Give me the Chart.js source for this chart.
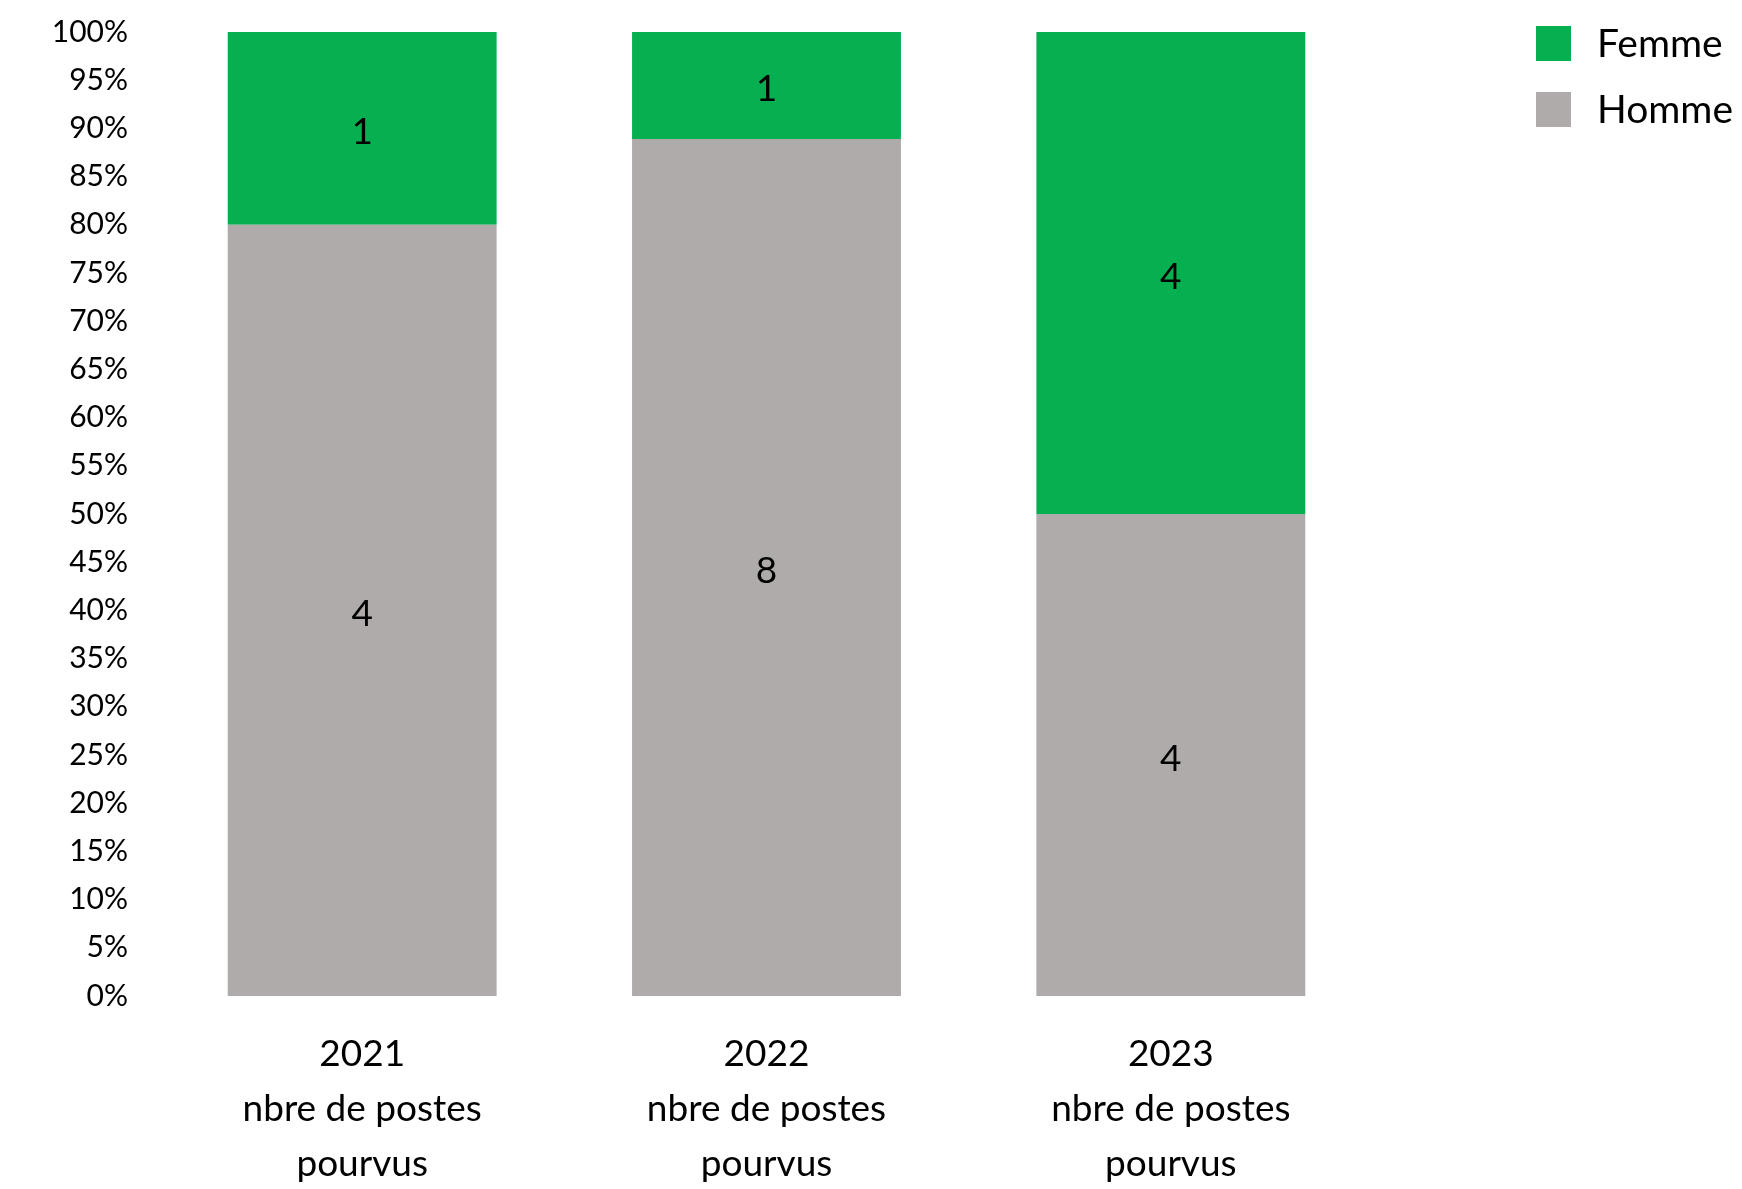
<!DOCTYPE html>
<html lang="fr">
<head>
  <meta charset="UTF-8">
  <title>Postes pourvus par sexe</title>
  <script src="https://cdn.jsdelivr.net/npm/chart.js"></script>
  <style>
    html, body { margin: 0; padding: 0; background: #fff; }
    #wrap { width: 1742px; height: 1189px; }
  </style>
</head>
<body>
  <div id="wrap"><canvas id="postesChart" width="1742" height="1189"></canvas></div>
  <script>
    // Data
    const years = ['2021', '2022', '2023'];
    const labelLines = ['nbre de postes', 'pourvus'];
    const homme = [4, 8, 4];
    const femme = [1, 1, 4];
    const yTicksMax = 100;
    const yTicksStep = 5;

    const GREEN = '#06B050';
    const GREY = '#AEABAA';
    const FONT = 'Lato';

    // 100% stacked: share of each year's total
    const totals = years.map((_, i) => homme[i] + femme[i]);
    const hommePct = homme.map((v, i) => v / totals[i] * 100);
    const femmePct = femme.map((v, i) => v / totals[i] * 100);

    // write the raw counts in the middle of each segment
    const countLabels = {
      id: 'countLabels',
      afterDatasetsDraw(chart) {
        const ctx = chart.ctx;
        ctx.save();
        ctx.font = '37px ' + FONT;
        ctx.fillStyle = '#000';
        ctx.textAlign = 'center';
        ctx.textBaseline = 'middle';
        chart.data.datasets.forEach((ds, di) => {
          chart.getDatasetMeta(di).data.forEach((bar, i) => {
            const p = bar.getCenterPoint();
            ctx.fillText(String(ds.counts[i]), p.x, p.y + 4);
          });
        });
        ctx.restore();
      }
    };

    // legend in the top right corner, top dataset first
    const sideLegend = {
      id: 'sideLegend',
      afterDraw(chart) {
        const ctx = chart.ctx;
        const items = chart.data.datasets.slice().reverse();
        ctx.save();
        ctx.font = '39px ' + FONT;
        ctx.textBaseline = 'middle';
        ctx.textAlign = 'left';
        items.forEach((ds, i) => {
          const y = 26 + i * 66;
          ctx.fillStyle = ds.backgroundColor;
          ctx.fillRect(1536, y, 35, 35);
          ctx.fillStyle = '#000';
          ctx.fillText(ds.label, 1597, y + 18);
        });
        ctx.restore();
      }
    };

    const ctx = document.getElementById('postesChart').getContext('2d');
    const postesChart = new Chart(ctx, {
      type: 'bar',
      data: {
        labels: years.map(y => [y].concat(labelLines)),
        datasets: [
          {
            label: 'Homme',
            data: hommePct,
            counts: homme,
            backgroundColor: GREY,
            borderWidth: 0
          },
          {
            label: 'Femme',
            data: femmePct,
            counts: femme,
            backgroundColor: GREEN,
            borderWidth: 0
          }
        ]
      },
      options: {
        responsive: false,
        animation: false,
        layout: {
          padding: { left: 0, right: 369, top: 0, bottom: 0 }
        },
        datasets: {
          bar: { categoryPercentage: 1, barPercentage: 0.665 }
        },
        plugins: {
          legend: { display: false },
          tooltip: { enabled: false }
        },
        scales: {
          x: {
            stacked: true,
            grid: { display: false, drawTicks: false },
            border: { display: false },
            ticks: {
              color: '#000',
              padding: 30,
              font: { family: FONT, size: 37, lineHeight: 1.49 }
            },
            afterFit(scale) { scale.height = 193; }
          },
          y: {
            stacked: true,
            min: 0,
            max: yTicksMax,
            grid: { display: false, drawTicks: false },
            border: { display: false },
            ticks: {
              stepSize: yTicksStep,
              color: '#000',
              padding: 32,
              font: { family: FONT, size: 30 },
              callback: v => v + '%'
            },
            afterFit(scale) {
              scale.width = 160;
              scale.paddingTop = 32;
            }
          }
        }
      },
      plugins: [countLabels, sideLegend]
    });
  </script>
</body>
</html>
